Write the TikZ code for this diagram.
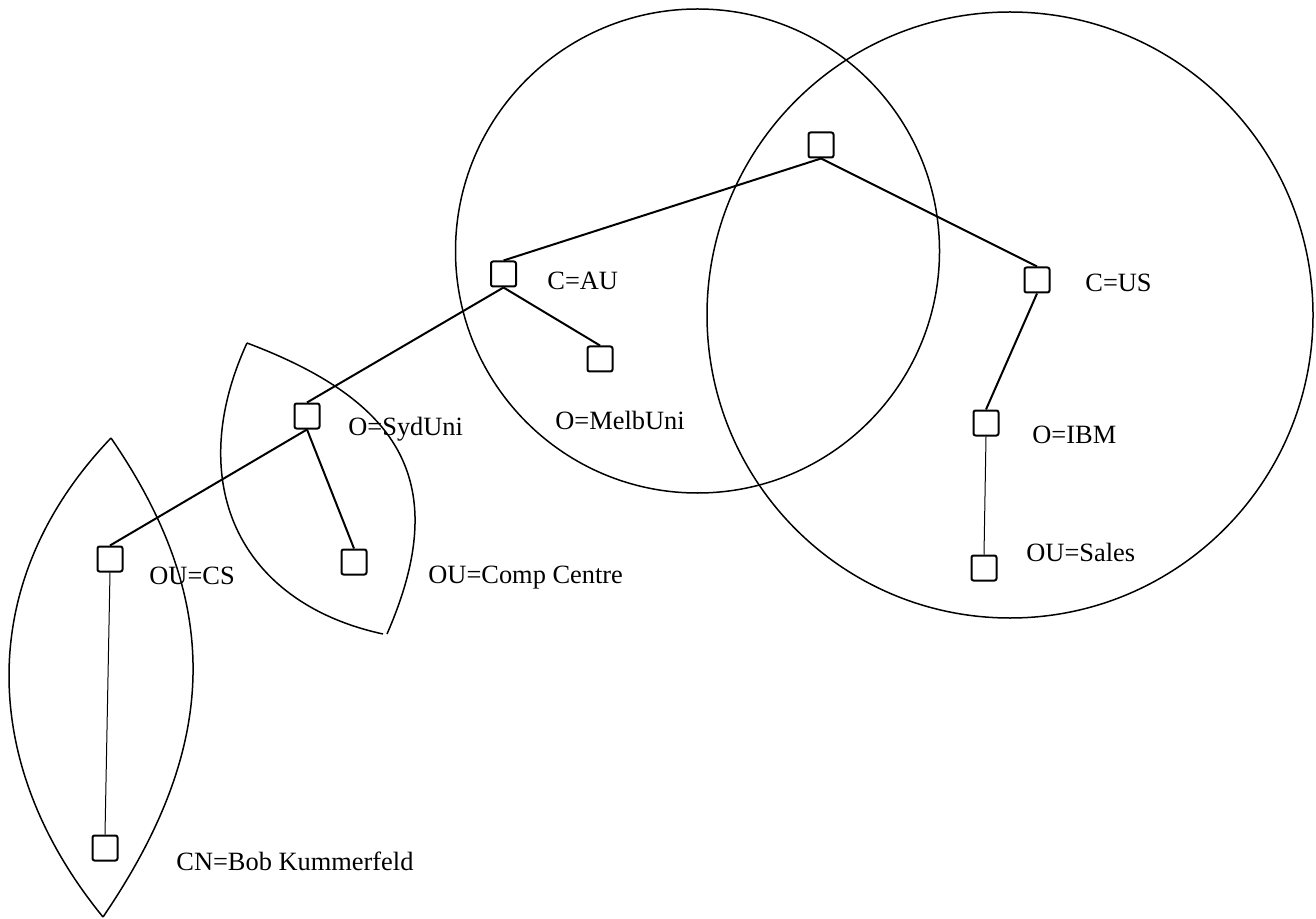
\documentclass[tikz,border=0pt]{standalone}
\usepackage{fontspec}
\setmainfont{Liberation Serif}
\usepackage{tikz}
\usetikzlibrary{positioning}
\tikzset{entry node/.style={rectangle, draw, line width=1pt, minimum size=12.5pt, inner sep=0pt, rounded corners=1pt},
  name node/.style={inner sep=0pt, anchor=base west, font=\fontsize{13.2}{15}\selectfont},}

\begin{document}
\begin{tikzpicture}[x=0.5pt, y=-0.5pt, on grid, line join=round]
        \useasboundingbox (0,0) rectangle (1316,919);
        % Entries
        \node[entry node] (root) at (821,145) {};
        \node[entry node] [below left = 64.5pt and 158.75pt of root] (au) {};
        \node[entry node] [below right = 67.5pt and 108pt of root] (us) {};
        \node[entry node] [below right = 42.5pt and 48.25pt of au] (melb) {};
        \node[entry node] [below left = 71pt and 98.25pt of au] (syd) {};
        \node[entry node] [below right = 73pt and 23.5pt of syd] (comp) {};
        \node[entry node] [below left = 71.5pt and 98.5pt of syd] (cs) {};
        \node[entry node] [below left = 144.5pt and 2.5pt of cs] (bob) {};
        \node[entry node] [below left = 71.5pt and 25.5pt of us] (ibm) {};
        \node[entry node] [below left = 72.5pt and 1pt of ibm] (sales) {};
        % Names
        \node[name node] (aulbl) at ([shift={(30,16)}]au.east) {C=AU};
        \node[name node] (uslbl) at ([shift={(34.5,12)}]us.east) {C=US};
        \node[name node] (melblbl) at ([shift={(-45,57)}]melb.south) {O=MelbUni};
        \node[name node] (sydlbl) at ([shift={(27.5,19)}]syd.east) {O=SydUni};
        \node[name node] (complbl) at ([shift={(60.5,21)}]comp.east) {OU=Comp Centre};
        \node[name node] (cslbl) at ([shift={(25.5,25)}]cs.east) {OU=CS};
        \node[name node] (boblbl) at ([shift={(57.5,22)}]bob.east) {CN=Bob Kummerfeld};
        \node[name node] (ibmlbl) at ([shift={(32.5,20)}]ibm.east) {O=IBM};
        \node[name node] (saleslbl) at ([shift={(28.5,-7)}]sales.east) {OU=Sales};
        % Links
        \path[draw, line width=1pt]
        (root.south) edge (au.north)
        (root.south) edge (us.north)
        (au.south) edge (melb.north)
        (au.south) edge (syd.north)
        (syd.south) edge (comp.north)
        (syd.south) edge (cs.north)
        (us.south) edge (ibm.north);
        \path[draw, line width=0.5pt]
        (cs.south) edge (bob.north)
        (ibm.south) edge (sales.north);
        % Regions
        \draw[line width=0.75pt] (697.5,251) circle [radius=121pt];
        \draw[line width=0.75pt] (1010,315) circle [radius=151.5pt];
        \draw[line width=0.75pt] (247,343) .. controls (184,480) and (236,602) .. (383,634);
        \draw[line width=0.75pt] (247,343) .. controls (401,401) and (453,483) .. (387,634);
        \draw[line width=0.75pt] (111,438) .. controls (-25.6,580.6) and (-21.7,764.5) .. (103,917);
        \draw[line width=0.75pt] (111,438) .. controls (225.9,605.3) and (217.3,749.3) .. (103,917);
    \end{tikzpicture}
\end{document}
